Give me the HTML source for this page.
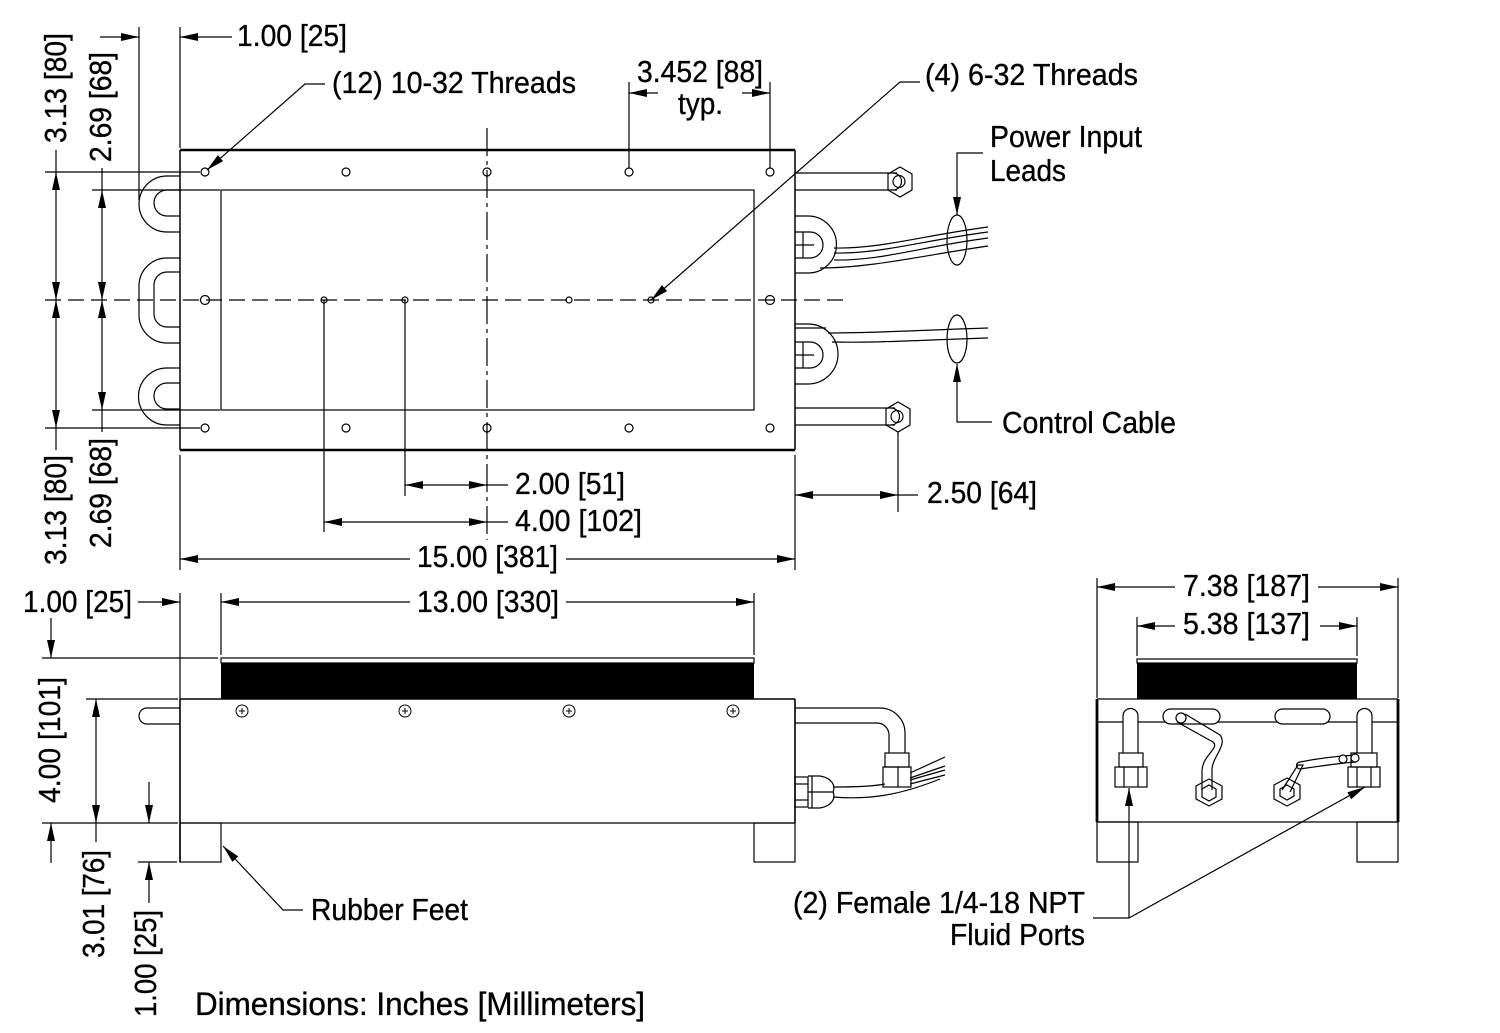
<!DOCTYPE html>
<html><head><meta charset="utf-8"><style>
html,body{margin:0;padding:0;background:#fff}
svg{display:block}
text{font-family:"Liberation Sans",Arial,sans-serif;font-size:31px;fill:#000;stroke:#000;stroke-width:0.35}
</style></head><body>
<svg width="1500" height="1033" viewBox="0 0 1500 1033" xmlns="http://www.w3.org/2000/svg">
<rect width="1500" height="1033" fill="#fff"/>
<g fill="none" stroke="#000" stroke-width="1.2">
<!-- ===== TOP VIEW ===== -->
<line x1="139" y1="27" x2="139" y2="200"/>
<line x1="180" y1="27" x2="180" y2="148"/>
<line x1="100" y1="37" x2="139" y2="37"/>
<line x1="180" y1="37" x2="232" y2="37"/>
<polyline points="325,84 305,84 207,170"/>
<line x1="180" y1="150" x2="795" y2="150" stroke-width="2.6"/>
<line x1="180" y1="450" x2="795" y2="450" stroke-width="2.6"/>
<line x1="180" y1="150" x2="180" y2="450" stroke-width="1.5"/>
<line x1="795" y1="150" x2="795" y2="450" stroke-width="1.5"/>
<rect x="221" y="190" width="533" height="220"/>
<circle cx="205" cy="172" r="4"/><circle cx="346" cy="172" r="4"/><circle cx="487" cy="172" r="4"/><circle cx="629" cy="172" r="4"/><circle cx="770" cy="172" r="4"/>
<circle cx="205" cy="428" r="4"/><circle cx="346" cy="428" r="4"/><circle cx="487" cy="428" r="4"/><circle cx="629" cy="428" r="4"/><circle cx="770" cy="428" r="4"/>
<circle cx="205" cy="300" r="4.5"/><circle cx="324" cy="300" r="3"/><circle cx="405" cy="300" r="3"/><circle cx="569" cy="300" r="3"/><circle cx="651" cy="300" r="3"/><circle cx="770" cy="300" r="4.5"/>
<line x1="45" y1="300" x2="845" y2="300" stroke-dasharray="16 7"/>
<line x1="487" y1="128" x2="487" y2="540" stroke-dasharray="28 5 4 5"/>
<path d="M180,176 H167 A28,28 0 0 0 167,232 H180"/>
<path d="M180,190 H167 A13,13 0 0 0 167,216 H180"/>
<path d="M180,258 H167 A28,28 0 0 0 139,286 V315 A28,28 0 0 0 167,343 H180"/>
<path d="M180,272 H167 A13,13 0 0 0 154,285 V314 A13,13 0 0 0 167,327 H180"/>
<path d="M180,368 H167 A28.5,28.5 0 0 0 167,425 H180"/>
<path d="M180,383 H167 A13,13 0 0 0 167,409 H180"/>
<line x1="45" y1="172" x2="200" y2="172"/>
<line x1="45" y1="428" x2="200" y2="428"/>
<line x1="92" y1="190" x2="220" y2="190"/>
<line x1="92" y1="410" x2="220" y2="410"/>
<line x1="56" y1="150" x2="56" y2="450"/>
<line x1="102" y1="168" x2="102" y2="432"/>
<line x1="795" y1="173" x2="897" y2="173"/>
<line x1="795" y1="190" x2="897" y2="190"/>
<polygon points="900,167 912,174 912,190 900,197 888,190 888,174"/>
<path d="M893,173 A8.5,8.5 0 0 1 893,190"/>
<circle cx="899" cy="181.5" r="6"/>
<line x1="795" y1="408" x2="895" y2="408"/>
<line x1="795" y1="425" x2="895" y2="425"/>
<polygon points="898,402 910,409 910,425 898,432 886,425 886,409"/>
<path d="M891,408 A8.5,8.5 0 0 1 891,425"/>
<circle cx="897" cy="416.5" r="6"/>
<path d="M795,216 H808 A28.5,28.5 0 0 1 808,273 H795"/>
<path d="M795,232 H810 A13,13 0 0 1 810,258 H795"/>
<line x1="803" y1="232" x2="803" y2="258"/>
<line x1="795" y1="245" x2="814" y2="245"/>
<path d="M795,324 H808 A30,30 0 0 1 808,384 H795"/>
<path d="M795,342 H810 A13,13 0 0 1 810,368 H795"/>
<line x1="803" y1="342" x2="803" y2="368"/>
<line x1="795" y1="355" x2="814" y2="355"/>
<line x1="795" y1="328" x2="826" y2="328"/>
<path d="M834,248 C880,249 920,236 988,227"/>
<path d="M834,253 C880,254 920,241 988,232"/>
<path d="M834,260 C880,261 920,247 988,238"/>
<path d="M820,268 C870,268 920,256 988,246"/>
<path d="M828,333 C880,333 920,330 988,328"/>
<path d="M832,342 C880,343 920,340 988,338"/>
<ellipse cx="957" cy="240" rx="10" ry="25"/>
<ellipse cx="957" cy="339" rx="10" ry="24"/>
<polyline points="983,153 957,153 957,215"/>
<polyline points="992,422 957,422 957,364"/>
<polyline points="920,82 900,82 651,300"/>
<line x1="629" y1="82" x2="629" y2="168"/>
<line x1="770" y1="82" x2="770" y2="168"/>
<line x1="629" y1="93" x2="658" y2="93"/>
<line x1="742" y1="93" x2="770" y2="93"/>
<line x1="405" y1="300" x2="405" y2="496"/>
<line x1="324" y1="300" x2="324" y2="532"/>
<line x1="405" y1="485" x2="508" y2="485"/>
<line x1="324" y1="522" x2="508" y2="522"/>
<line x1="180" y1="455" x2="180" y2="570"/>
<line x1="795" y1="455" x2="795" y2="570"/>
<line x1="180" y1="559" x2="410" y2="559"/>
<line x1="566" y1="559" x2="795" y2="559"/>
<line x1="898" y1="432" x2="898" y2="512"/>
<line x1="795" y1="495" x2="918" y2="495"/>

<!-- ===== SIDE VIEW ===== -->
<line x1="180" y1="593" x2="180" y2="699"/>
<line x1="221" y1="593" x2="221" y2="655"/>
<line x1="754" y1="593" x2="754" y2="655"/>
<line x1="138" y1="602" x2="180" y2="602"/>
<line x1="221" y1="602" x2="410" y2="602"/>
<line x1="566" y1="602" x2="754" y2="602"/>
<rect x="221" y="658" width="533" height="5"/>
<line x1="180" y1="699" x2="795" y2="699" stroke-width="1.4"/>
<line x1="180" y1="823" x2="795" y2="823"/>
<line x1="180" y1="699" x2="180" y2="862" stroke-width="1.6"/>
<line x1="795" y1="699" x2="795" y2="823" stroke-width="1.6"/>
<rect x="180" y="823" width="41" height="39"/>
<rect x="754" y="823" width="41" height="39"/>
<line x1="42" y1="658" x2="218" y2="658"/>
<line x1="86" y1="699" x2="178" y2="699"/>
<line x1="42" y1="823" x2="178" y2="823"/>
<line x1="138" y1="862" x2="177" y2="862"/>
<path d="M180,708 H147 A8,8 0 0 0 147,724 H180"/>
<line x1="51" y1="618" x2="51" y2="658"/>
<line x1="51" y1="823" x2="51" y2="863"/>
<line x1="96" y1="699" x2="96" y2="842"/>
<line x1="149" y1="782" x2="149" y2="823"/>
<line x1="149" y1="862" x2="149" y2="903"/>
<g stroke-width="1">
<circle cx="242" cy="711" r="6"/><path d="M239,711 H245 M242,708 V714"/>
<circle cx="405" cy="711" r="6"/><path d="M402,711 H408 M405,708 V714"/>
<circle cx="569" cy="711" r="6"/><path d="M566,711 H572 M569,708 V714"/>
<circle cx="733" cy="711" r="6"/><path d="M730,711 H736 M733,708 V714"/>
</g>
<polyline points="223,846 283,910 303,910"/>
<path d="M795,708 H880 A25,25 0 0 1 905,733 V753"/>
<path d="M795,723 H877 A12,12 0 0 1 889,735 V753"/>
<rect x="885" y="753" width="24" height="14"/>
<rect x="883" y="767" width="28" height="20"/>
<line x1="898" y1="767" x2="898" y2="787"/>
<rect x="795" y="777" width="13" height="30"/>
<line x1="795" y1="784" x2="808" y2="784"/><line x1="795" y1="800" x2="808" y2="800"/>
<path d="M808,776 H820 C832,778 836,786 833,792 C836,798 832,806 820,808 H808"/>
<line x1="812" y1="776" x2="812" y2="808"/>
<line x1="808" y1="792" x2="833" y2="792"/>
<path d="M833,787 C860,787 875,786 885,784"/>
<path d="M833,797 C870,800 900,795 940,779"/>
<line x1="910" y1="773" x2="945" y2="757"/>
<line x1="910" y1="778" x2="945" y2="766"/>
<line x1="910" y1="780" x2="945" y2="770"/>
<line x1="910" y1="784" x2="945" y2="775"/>

<!-- ===== END VIEW ===== -->
<line x1="1097" y1="578" x2="1097" y2="698"/>
<line x1="1398" y1="578" x2="1398" y2="698"/>
<line x1="1097" y1="587" x2="1175" y2="587"/>
<line x1="1318" y1="587" x2="1398" y2="587"/>
<line x1="1137" y1="617" x2="1137" y2="656"/>
<line x1="1357" y1="617" x2="1357" y2="656"/>
<line x1="1137" y1="626" x2="1175" y2="626"/>
<line x1="1320" y1="626" x2="1357" y2="626"/>
<rect x="1137" y="659" width="220" height="4"/>
<line x1="1097" y1="699" x2="1398" y2="699"/>
<line x1="1097" y1="822" x2="1398" y2="822"/>
<line x1="1097" y1="699" x2="1097" y2="822" stroke-width="2.8"/>
<line x1="1398" y1="699" x2="1398" y2="822" stroke-width="2.8"/>
<line x1="1097" y1="722" x2="1398" y2="722"/>
<rect x="1097" y="822" width="41" height="40"/>
<rect x="1357" y="822" width="41" height="40"/>
<rect x="1163" y="709" width="57" height="15" rx="7.5" fill="#fff"/>
<rect x="1275" y="709" width="55" height="15" rx="7.5" fill="#fff"/>
<path d="M1123,753 V716 A7.5,7.5 0 0 1 1138,716 V753" fill="#fff"/>
<rect x="1119" y="753" width="24" height="14"/>
<rect x="1115" y="767" width="32" height="20"/>
<line x1="1124" y1="767" x2="1124" y2="787"/><line x1="1138" y1="767" x2="1138" y2="787"/>
<path d="M1357,753 V716 A7.5,7.5 0 0 1 1372,716 V753" fill="#fff"/>
<rect x="1351" y="753" width="26" height="14"/>
<rect x="1348" y="767" width="32" height="20"/>
<line x1="1357" y1="767" x2="1357" y2="787"/><line x1="1371" y1="767" x2="1371" y2="787"/>
<path d="M1177,722 L1213,742 C1220,748 1203,755 1202,770 L1202,790"/>
<path d="M1185,714 L1220,735 C1228,745 1212,757 1212,770 L1212,790"/>
<circle cx="1181" cy="718" r="5" fill="#fff"/>
<polygon points="1209,779 1222,786 1222,799 1209,806 1196,799 1196,786"/>
<polygon points="1209,785 1216,789 1216,797 1209,801 1202,797 1202,789"/>
<polygon points="1287,778 1300,785 1300,799 1287,806 1274,799 1274,785"/>
<polygon points="1287,785 1294,789 1294,796 1287,800 1280,796 1280,789"/>
<path d="M1282,790 L1298,765 L1303,765 L1290,792"/>
<path d="M1300,762 C1320,758 1340,756 1356,755"/>
<path d="M1300,769 C1320,766 1340,763 1356,762"/>
<path d="M1300,762 A3.5,3.5 0 0 0 1300,769"/>
<circle cx="1343" cy="759" r="4" fill="#fff"/>
<circle cx="1355" cy="758" r="4" fill="#fff"/>
<line x1="1129" y1="788" x2="1129" y2="918"/>
<line x1="1093" y1="918" x2="1129" y2="918"/>
<line x1="1129" y1="918" x2="1365" y2="787"/>
</g>

<g fill="#000" stroke="none">
<rect x="221" y="663" width="533" height="36"/>
<rect x="1137" y="663" width="220" height="36"/>
<polygon points="139,37 121,33 121,41"/>
<polygon points="180,37 198,33 198,41"/>
<polygon points="207,170 223.1,161.1 217.9,155.1"/>
<polygon points="651,300 667.1,291.1 661.9,285.1"/>
<polygon points="56,172 52,190 60,190"/>
<polygon points="56,300 52,282 60,282"/>
<polygon points="56,300 52,318 60,318"/>
<polygon points="56,428 52,410 60,410"/>
<polygon points="102,190 98,208 106,208"/>
<polygon points="102,300 98,282 106,282"/>
<polygon points="102,300 98,318 106,318"/>
<polygon points="102,410 98,392 106,392"/>
<polygon points="957,215 953,197 961,197"/>
<polygon points="957,364 953,382 961,382"/>
<polygon points="629,93 647,89 647,97"/>
<polygon points="770,93 752,89 752,97"/>
<polygon points="405,485 423,481 423,489"/>
<polygon points="487,485 469,481 469,489"/>
<polygon points="324,522 342,518 342,526"/>
<polygon points="487,522 469,518 469,526"/>
<polygon points="180,559 198,555 198,563"/>
<polygon points="795,559 777,555 777,563"/>
<polygon points="795,495 813,491 813,499"/>
<polygon points="898,495 880,491 880,499"/>
<polygon points="180,602 162,598 162,606"/>
<polygon points="221,602 239,598 239,606"/>
<polygon points="754,602 736,598 736,606"/>
<polygon points="51,658 47,640 55,640"/>
<polygon points="51,823 47,841 55,841"/>
<polygon points="96,699 92,717 100,717"/>
<polygon points="96,823 92,805 100,805"/>
<polygon points="149,823 145,805 153,805"/>
<polygon points="149,862 145,880 153,880"/>
<polygon points="223,846 238.2,856.4 232.4,861.8"/>
<polygon points="1097,587 1115,583 1115,591"/>
<polygon points="1398,587 1380,583 1380,591"/>
<polygon points="1137,626 1155,622 1155,630"/>
<polygon points="1357,626 1339,622 1339,630"/>
<polygon points="1129,788 1125,806 1133,806"/>
<polygon points="1365,787 1351.2,799.2 1347.4,792.2"/>
</g>

<text x="237" y="46" textLength="110" lengthAdjust="spacingAndGlyphs">1.00 [25]</text>
<text x="332" y="93" textLength="244" lengthAdjust="spacingAndGlyphs">(12) 10-32 Threads</text>
<text x="637" y="82" textLength="126" lengthAdjust="spacingAndGlyphs">3.452 [88]</text>
<text x="678" y="114" textLength="45" lengthAdjust="spacingAndGlyphs">typ.</text>
<text x="925" y="85" textLength="213" lengthAdjust="spacingAndGlyphs">(4) 6-32 Threads</text>
<text x="990" y="147" textLength="152" lengthAdjust="spacingAndGlyphs">Power Input</text>
<text x="990" y="181" textLength="76" lengthAdjust="spacingAndGlyphs">Leads</text>
<text x="1002" y="433" textLength="174" lengthAdjust="spacingAndGlyphs">Control Cable</text>
<text x="515" y="494" textLength="110" lengthAdjust="spacingAndGlyphs">2.00 [51]</text>
<text x="515" y="531" textLength="127" lengthAdjust="spacingAndGlyphs">4.00 [102]</text>
<text x="417" y="567" textLength="141" lengthAdjust="spacingAndGlyphs">15.00 [381]</text>
<text x="927" y="503" textLength="110" lengthAdjust="spacingAndGlyphs">2.50 [64]</text>
<text transform="translate(66,143) rotate(-90)" textLength="110" lengthAdjust="spacingAndGlyphs">3.13 [80]</text>
<text transform="translate(111,162) rotate(-90)" textLength="110" lengthAdjust="spacingAndGlyphs">2.69 [68]</text>
<text transform="translate(66,565) rotate(-90)" textLength="110" lengthAdjust="spacingAndGlyphs">3.13 [80]</text>
<text transform="translate(111,548) rotate(-90)" textLength="110" lengthAdjust="spacingAndGlyphs">2.69 [68]</text>
<text x="23" y="612" textLength="109" lengthAdjust="spacingAndGlyphs">1.00 [25]</text>
<text x="417" y="612" textLength="142" lengthAdjust="spacingAndGlyphs">13.00 [330]</text>
<text transform="translate(60,803) rotate(-90)" textLength="126" lengthAdjust="spacingAndGlyphs">4.00 [101]</text>
<text transform="translate(104,958) rotate(-90)" textLength="108" lengthAdjust="spacingAndGlyphs">3.01 [76]</text>
<text transform="translate(156,1017) rotate(-90)" textLength="107" lengthAdjust="spacingAndGlyphs">1.00 [25]</text>
<text x="311" y="920" textLength="157" lengthAdjust="spacingAndGlyphs">Rubber Feet</text>
<text x="195" y="1015" textLength="450" lengthAdjust="spacingAndGlyphs" style="font-size:32px">Dimensions: Inches [Millimeters]</text>
<text x="1183" y="596" textLength="127" lengthAdjust="spacingAndGlyphs">7.38 [187]</text>
<text x="1183" y="634" textLength="127" lengthAdjust="spacingAndGlyphs">5.38 [137]</text>
<text x="793" y="913" textLength="292" lengthAdjust="spacingAndGlyphs">(2) Female 1/4-18 NPT</text>
<text x="950" y="945" textLength="135" lengthAdjust="spacingAndGlyphs">Fluid Ports</text>
</svg>
</body></html>
